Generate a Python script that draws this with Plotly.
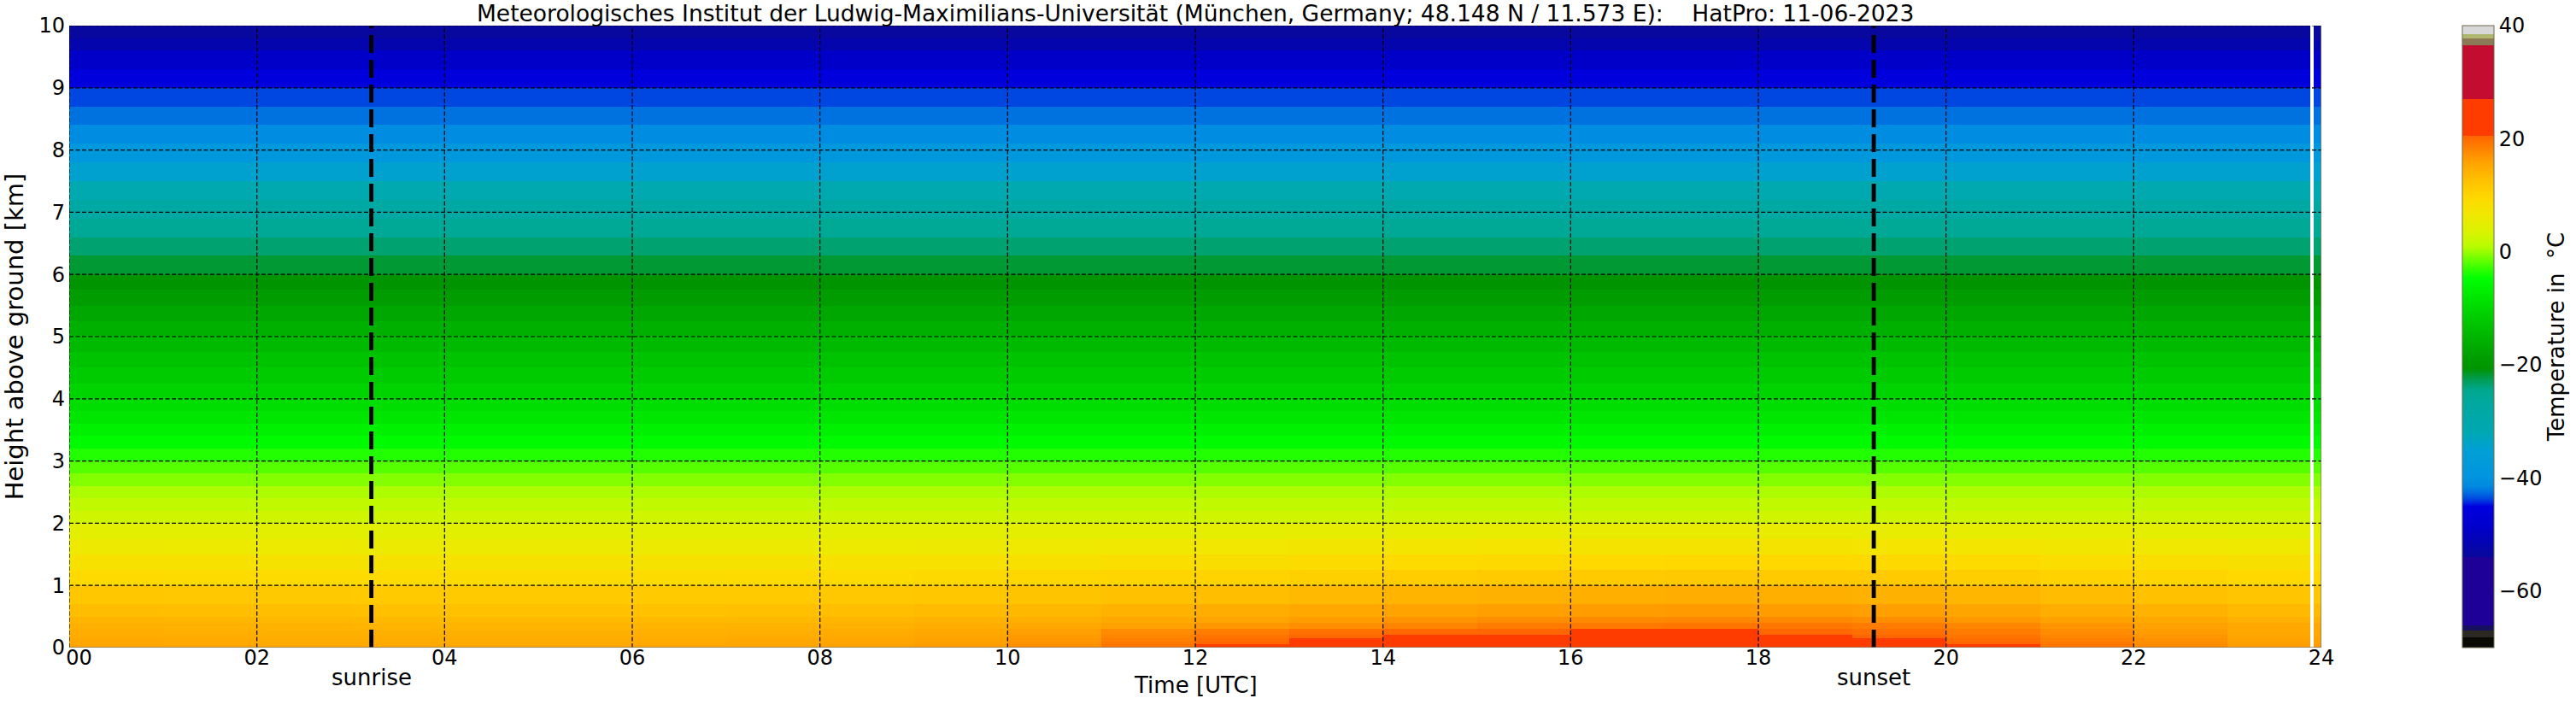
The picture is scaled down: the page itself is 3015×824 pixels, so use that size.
import plotly.graph_objects as go

# ---------------- data ----------------
hour_starts = list(range(0, 24))           # hourly columns, UTC
gap_start_h = 23.88                         # missing data (white stripe)
gap_end_h = 23.92
sunrise_h = 3.22
sunset_h = 19.23

# level edges in km (45 levels)
height_edges_km = [0, 0.05, 0.1, 0.15, 0.2, 0.3, 0.4, 0.5, 0.7, 1.0, 1.25, 1.5, 1.75, 2.0,
                   2.2, 2.4, 2.6, 2.8, 3.0, 3.2, 3.4, 3.6, 3.8, 4.0,
                   4.25, 4.5, 4.75, 5.0, 5.25, 5.5, 5.75, 6.0,
                   6.3, 6.6, 6.9, 7.2, 7.5, 7.8, 8.1, 8.4, 8.7, 9.0, 9.3, 9.6, 9.8, 10.0]

# boundary-layer levels: hourly temperatures (deg C), hours 00..23
t_0000_0050m = [15.6, 15.4, 15.2, 15.2, 15.2, 15.2, 15.3, 15.5, 15.8, 16.3, 17.3, 19.3, 20.6, 21.6, 22.3, 22.8, 23.0, 22.9, 22.6, 21.8, 20.8, 19.4, 17.7, 16.3]
t_0050_0100m = [15.4, 15.2, 15.0, 15.0, 15.0, 15.0, 15.1, 15.3, 15.6, 16.1, 17.0, 18.9, 20.2, 21.2, 21.9, 22.3, 22.5, 22.4, 22.1, 21.4, 20.4, 18.9, 17.4, 16.1]
t_0100_0150m = [15.1, 15.0, 14.8, 14.8, 14.8, 14.8, 14.9, 15.1, 15.3, 15.8, 16.7, 18.5, 19.8, 20.6, 21.3, 21.7, 21.9, 21.8, 21.6, 20.8, 19.9, 18.4, 17.1, 15.8]
t_0150_0200m = [14.9, 14.8, 14.6, 14.6, 14.6, 14.6, 14.7, 14.9, 15.1, 15.6, 16.4, 18.1, 19.3, 20.2, 20.8, 21.2, 21.4, 21.3, 21.1, 20.4, 19.4, 18.1, 16.8, 15.6]
t_0200_0300m = [14.6, 14.5, 14.3, 14.3, 14.3, 14.3, 14.4, 14.5, 14.8, 15.2, 16.0, 17.6, 18.6, 19.5, 20.1, 20.4, 20.6, 20.5, 20.3, 19.6, 18.7, 17.5, 16.3, 15.2]
t_0300_0400m = [14.5, 14.3, 14.2, 14.0, 13.9, 13.9, 13.9, 14.1, 14.3, 14.7, 15.2, 15.9, 16.6, 17.3, 18.1, 18.7, 19.0, 19.2, 19.1, 18.7, 17.9, 16.8, 15.9, 15.1]
t_0400_0500m = [13.9, 13.8, 13.6, 13.5, 13.4, 13.4, 13.4, 13.5, 13.8, 14.1, 14.5, 15.1, 15.6, 16.3, 16.9, 17.4, 17.7, 17.8, 17.7, 17.4, 16.7, 15.8, 15.1, 14.4]
t_0500_0700m = [13.1, 13.0, 12.9, 12.8, 12.7, 12.7, 12.7, 12.8, 13.0, 13.3, 13.6, 14.1, 14.6, 15.1, 15.7, 16.0, 16.3, 16.4, 16.3, 16.0, 15.5, 14.7, 14.1, 13.5]
t_0700_1000m = [11.8, 11.7, 11.6, 11.5, 11.4, 11.4, 11.4, 11.5, 11.7, 11.9, 12.2, 12.6, 13.0, 13.5, 14.0, 14.3, 14.5, 14.6, 14.5, 14.3, 13.8, 13.2, 12.6, 12.1]
t_1000_1250m = [9.3, 9.2, 9.1, 9.1, 9.0, 9.0, 9.0, 9.1, 9.2, 9.4, 9.7, 10.0, 10.3, 10.7, 11.1, 11.3, 11.5, 11.6, 11.5, 11.3, 11.0, 10.4, 10.0, 9.6]
t_1250_1500m = [7.8, 7.8, 7.7, 7.6, 7.6, 7.6, 7.6, 7.7, 7.8, 7.9, 8.1, 8.4, 8.6, 8.9, 9.2, 9.4, 9.5, 9.6, 9.6, 9.4, 9.1, 8.7, 8.4, 8.0]
t_1500_1750m = [6.2, 6.1, 6.1, 6.0, 6.0, 6.0, 6.0, 6.0, 6.1, 6.2, 6.4, 6.5, 6.7, 6.9, 7.1, 7.3, 7.4, 7.4, 7.4, 7.3, 7.1, 6.8, 6.5, 6.3]
t_1750_2000m = [4.6, 4.6, 4.6, 4.5, 4.5, 4.5, 4.5, 4.5, 4.6, 4.7, 4.8, 4.9, 5.0, 5.2, 5.3, 5.4, 5.5, 5.5, 5.5, 5.4, 5.3, 5.1, 4.9, 4.7]

# free troposphere (2-10 km): nearly constant through the day
t_upper_profile = [2.6, 1.6, 0.6, -0.6, -2.0, -3.6, -5.2, -6.6, -8.0, -9.3,
                   -10.5, -11.8, -13.0, -14.3, -15.8, -17.3, -19.0, -20.6,
                   -21.8, -23.5, -25.5, -28.0, -31.0, -34.5, -38.5, -41.0, -42.4, -43.7, -45.5, -49.0,
                   -52.0, -53.8]

# colour bar (temperature, colour)
cbar_stops = [(-70, "#0a0a05"), (-68.2, "#0a0a05"), (-68.2, "#2b2822"), (-67, "#2b2822"),
              (-67, "#16105e"), (-66, "#16105e"), (-66, "#1e0096"), (-54, "#1e0096"),
              (-54, "#08089c"), (-49, "#0000c8"), (-45, "#0000e0"), (-44.5, "#0020e0"),
              (-43.5, "#0050e0"), (-42.3, "#0075e0"), (-41.5, "#0088e0"), (-40, "#0094e0"),
              (-35, "#00a0d4"), (-32, "#00a8b4"), (-27, "#00a8a0"), (-24.5, "#00a890"),
              (-22.5, "#009c50"), (-20.6, "#009400"), (-19, "#009c00"), (-15.8, "#00b000"),
              (-11, "#00d000"), (-4.7, "#00ff00"), (-3.1, "#30ff00"), (-0.7, "#80ff00"),
              (0.9, "#b8fc00"), (3.3, "#d8f400"), (6.5, "#f0e800"), (9.6, "#ffd800"),
              (12.8, "#ffc000"), (16, "#ffa000"), (18.4, "#ff8000"), (20.5, "#ff6400"),
              (20.5, "#ff3c00"), (27.0, "#ff3c00"), (27.0, "#c20c30"), (36.5, "#c20c30"),
              (36.5, "#8b7a55"), (37.7, "#8b7a55"), (37.7, "#b0b870"), (38.5, "#b0b870"),
              (38.5, "#d8d8d8"), (40, "#d8d8d8")]
zmin, zmax = -70, 40
cbar_ticks = [-60, -40, -20, 0, 20, 40]
x_ticks = list(range(0, 25, 2))
y_ticks = list(range(0, 11))

# ---------------- build figure ----------------
lower_levels = [t_0000_0050m, t_0050_0100m, t_0100_0150m, t_0150_0200m, t_0200_0300m,
                t_0300_0400m, t_0400_0500m, t_0500_0700m, t_0700_1000m, t_1000_1250m,
                t_1250_1500m, t_1500_1750m, t_1750_2000m]
rows = [list(r) for r in lower_levels] + [[v] * 24 for v in t_upper_profile]

x_edges = hour_starts + [gap_start_h, gap_end_h, 24]
z = []
for r in rows:
    z.append(r[:23] + [r[23], None, r[23]])

colorscale = [[(v - zmin) / (zmax - zmin), c] for v, c in cbar_stops]

FONT = "DejaVu Sans, sans-serif"
TICK_FS = 24
LABEL_FS = 26
VLABEL_FS = 29
NB = "\u00a0"

x_ticktext = [f"{t:02d}" for t in x_ticks]
x_ticktext[0] = NB * 3 + x_ticktext[0]

fig = go.Figure()
fig.add_trace(go.Heatmap(
    x=x_edges, y=height_edges_km, z=z,
    zmin=zmin, zmax=zmax, colorscale=colorscale,
    hoverongaps=False,
    colorbar=dict(
        x=1.0626, xanchor="left", xref="paper", xpad=0, ypad=0,
        y=0.5, yanchor="middle", len=1.0, lenmode="fraction",
        thickness=37, thicknessmode="pixels",
        outlinecolor="#6f6a4c", outlinewidth=1,
        tickvals=cbar_ticks, ticks="",
        tickfont=dict(family=FONT, size=TICK_FS, color="black"),
        title=dict(text="Temperature in" + NB + " °C", side="right",
                   font=dict(family=FONT, size=26, color="black")),
    ),
))

shapes = []
for t in x_ticks[:-1]:
    shapes.append(dict(type="line", xref="x", yref="y", x0=t, x1=t, y0=0, y1=10,
                       line=dict(color="black", width=1.2, dash="5px,2.5px"), layer="above"))
for h in y_ticks[1:]:
    shapes.append(dict(type="line", xref="x", yref="y", x0=0, x1=24, y0=h, y1=h,
                       line=dict(color="black", width=1.2, dash="5px,2.5px"), layer="above"))
for t in (sunrise_h, sunset_h):
    shapes.append(dict(type="line", xref="x", yref="y", x0=t, x1=t, y0=0, y1=10,
                       line=dict(color="black", width=4.8, dash="21px,8px"), layer="above"))
shapes.append(dict(type="line", xref="x", yref="y", x0=24, x1=24, y0=0, y1=10,
                   line=dict(color="#8c7b60", width=1.5), layer="above"))
shapes.append(dict(type="line", xref="x", yref="y", x0=0, x1=24, y0=0, y1=0,
                   line=dict(color="#8c7b60", width=1.5), layer="above"))

annotations = [
    dict(text="Meteorologisches Institut der Ludwig-Maximilians-Universität (München, Germany; 48.148 N / 11.573 E):    HatPro: 11-06-2023",
         xref="paper", yref="paper", x=0.5, y=1.0, yanchor="middle", xanchor="center",
         yshift=15, showarrow=False, font=dict(family=FONT, size=26.5, color="black")),
    dict(text="Time [UTC]", xref="paper", yref="paper", x=0.5, y=0, yshift=-44,
         xanchor="center", yanchor="middle", showarrow=False,
         font=dict(family=FONT, size=LABEL_FS, color="black")),
    dict(text="sunrise", xref="x", yref="paper", x=sunrise_h, y=0, yshift=-35,
         xanchor="center", yanchor="middle", showarrow=False,
         font=dict(family=FONT, size=LABEL_FS, color="black")),
    dict(text="sunset", xref="x", yref="paper", x=sunset_h, y=0, yshift=-35,
         xanchor="center", yanchor="middle", showarrow=False,
         font=dict(family=FONT, size=LABEL_FS, color="black")),
]

fig.update_layout(
    width=3015, height=824,
    margin=dict(l=81, r=298, t=30, b=66, autoexpand=False),
    paper_bgcolor="white", plot_bgcolor="white",
    shapes=shapes, annotations=annotations,
    xaxis=dict(range=[0, 24], tickvals=x_ticks, ticktext=x_ticktext,
               showgrid=False, zeroline=False, showline=False, ticks="",
               tickfont=dict(family=FONT, size=TICK_FS, color="black"), ticklabelstandoff=-5,
               automargin=False),
    yaxis=dict(range=[0, 10], tickvals=y_ticks, showgrid=False, zeroline=False,
               showline=False, ticks="", ticklabelstandoff=4,
               tickfont=dict(family=FONT, size=TICK_FS, color="black"),
               title=dict(text=NB * 7 + "Height above ground [km]", standoff=9,
                          font=dict(family=FONT, size=VLABEL_FS, color="black")),
               automargin=False),
    font=dict(family=FONT, size=TICK_FS, color="black"),
)

# remove the browser's default 8 px page margin so the figure sits at the page origin
fig.write_html("out.html", config={"displayModeBar": False},
               post_script="document.body.style.margin='0px';")
